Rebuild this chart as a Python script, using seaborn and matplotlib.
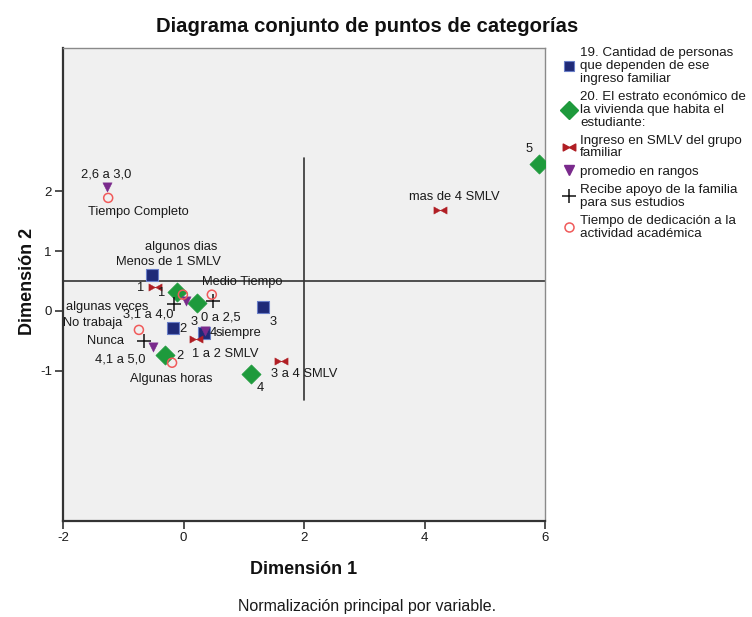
import numpy as np
import pandas as pd
import matplotlib
matplotlib.use("Agg")
import matplotlib.pyplot as plt
from matplotlib.path import Path
from matplotlib.lines import Line2D
import seaborn as sns

# ---------------- data ----------------
sq_labels = ["1", "2", "3", "4"]
sq_x = [-0.52, -0.17, 1.32, 0.34]
sq_y = [0.60, -0.28, 0.07, -0.37]

di_labels = ["1", "2", "3", "4", "5"]
di_x = [-0.11, -0.31, 0.22, 1.12, 5.90]
di_y = [0.32, -0.74, 0.13, -1.06, 2.46]

bt_labels = ["Menos de 1 SMLV", "1 a 2 SMLV", "3 a 4 SMLV", "mas de 4 SMLV"]
bt_x = [-0.47, 0.21, 1.62, 4.26]
bt_y = [0.40, -0.47, -0.84, 1.69]

tr_labels = ["2,6 a 3,0", "3,1 a 4,0", "0 a 2,5", "4,1 a 5,0"]
tr_x = [-1.27, 0.04, 0.36, -0.51]
tr_y = [2.08, 0.17, -0.34, -0.60]

pl_labels = ["algunas veces", "siempre", "Nunca"]
pl_x = [-0.16, 0.49, -0.66]
pl_y = [0.12, 0.17, -0.50]

ci_labels = ["Tiempo Completo", "Medio Tiempo", "algunos dias", "No trabaja", "Algunas horas"]
ci_x = [-1.25, 0.47, -0.01, -0.74, -0.19]
ci_y = [1.89, 0.27, 0.27, -0.32, -0.87]

legend_labels = [
    "19. Cantidad de personas\nque dependen de ese\ningreso familiar",
    "20. El estrato económico de\nla vivienda que habita el\nestudiante:",
    "Ingreso en SMLV del grupo\nfamiliar",
    "promedio en rangos",
    "Recibe apoyo de la familia\npara sus estudios",
    "Tiempo de dedicación a la\nactividad académica",
]

ref_h = 0.5
ref_v = 2.0
ref_v_span = (-1.5, 2.55)

# ---------------- label offsets (pixels) ----------------
sq_off = [(-12, -13), (10, -2), (10, -15), (9, 0)]
di_off = [(-15, -1), (15, -1), (-3, -19), (9, -14), (-10, 15)]
bt_off = [(13, 25), (29, -15), (23, -13), (14, 13)]
tr_off = [(-1, 12), (-38, -14), (16, 14), (-33, -13)]
pl_off = [(-67, -3), (25, -32), (-38, 0)]
ci_off = [(30, -14), (30, 13), (-2, 48), (-46, 7), (-1, -16)]

# ---------------- style ----------------
sns.set_style("white")
plt.rcParams["font.family"] = ["Liberation Sans", "DejaVu Sans"]
plt.rcParams["axes.unicode_minus"] = False

bowtie = Path([(-1, -0.55), (-1, 0.55), (0, 0), (1, 0.55), (1, -0.55), (0, 0), (-1, -0.55)],
              [Path.MOVETO, Path.LINETO, Path.LINETO, Path.LINETO, Path.LINETO, Path.LINETO, Path.CLOSEPOLY])

C_SQ, C_SQE = "#1f2a78", "#6a7fc8"
C_DI = "#1e9a3c"
C_BT = "#b01e24"
C_TR = "#7a2a8c"
C_PL = "#111111"
C_CI = "#f05a5a"

fig = plt.figure(figsize=(7.52, 6.17), dpi=100)
fig.patch.set_facecolor("white")
ax = fig.add_axes([63 / 752, 1 - 521 / 617, 482 / 752, 473 / 617])
ax.set_facecolor("#f0f0f0")

def df(x, y, lab):
    return pd.DataFrame({"x": x, "y": y, "lab": lab})

d_sq = df(sq_x, sq_y, sq_labels)
d_di = df(di_x, di_y, di_labels)
d_bt = df(bt_x, bt_y, bt_labels)
d_tr = df(tr_x, tr_y, tr_labels)
d_pl = df(pl_x, pl_y, pl_labels)
d_ci = df(ci_x, ci_y, ci_labels)

# reference lines
ax.axhline(ref_h, color="#333333", lw=1.2, zorder=1)
ax.plot([ref_v, ref_v], list(ref_v_span), color="#333333", lw=1.2, zorder=1)

sns.scatterplot(data=d_sq, x="x", y="y", ax=ax, marker="s", s=64, color=C_SQ,
                edgecolor=C_SQE, linewidth=0.8, zorder=3, legend=False)
sns.scatterplot(data=d_di, x="x", y="y", ax=ax, marker="D", s=95, color=C_DI,
                edgecolor=C_DI, linewidth=0.5, zorder=3, legend=False)
sns.scatterplot(data=d_bt, x="x", y="y", ax=ax, marker=bowtie, s=90, color=C_BT,
                edgecolor=C_BT, linewidth=0.3, zorder=4, legend=False)
sns.scatterplot(data=d_tr, x="x", y="y", ax=ax, marker="v", s=45, color=C_TR,
                edgecolor=C_TR, linewidth=0.3, zorder=4, legend=False)
sns.scatterplot(data=d_pl, x="x", y="y", ax=ax, marker="+", s=90, color=C_PL,
                linewidth=1.1, zorder=5, legend=False)
sns.scatterplot(data=d_ci, x="x", y="y", ax=ax, marker="o", s=42, facecolor="none",
                edgecolor=C_CI, linewidth=1.1, zorder=6, legend=False)

def label(d, offs):
    for (xx, yy, t), (dx, dy) in zip(d[["x", "y", "lab"]].itertuples(index=False), offs):
        ax.annotate(t, (xx, yy), xytext=(dx, dy), textcoords="offset pixels",
                    ha="center", va="center", fontsize=9.3, color="#1a1a1a", zorder=7)

for d, o in [(d_sq, sq_off), (d_di, di_off), (d_bt, bt_off), (d_tr, tr_off), (d_pl, pl_off), (d_ci, ci_off)]:
    label(d, o)

ax.set_xlim(-2, 6)
ax.set_ylim(-3.52, 4.40)
ax.set_xticks([-2, 0, 2, 4, 6])
ax.set_yticks([-1, 0, 1, 2])
ax.set_xlabel("")
ax.set_ylabel("")
ax.tick_params(axis="both", direction="out", length=6, width=1.2, color="#333333",
               labelsize=9.5, pad=2, labelcolor="#1a1a1a")
ax.tick_params(left=True, bottom=True)
for s in ["left", "bottom"]:
    ax.spines[s].set_color("#333333")
    ax.spines[s].set_linewidth(1.6)
for s in ["top", "right"]:
    ax.spines[s].set_color("#8a8a8a")
    ax.spines[s].set_linewidth(1.0)

fig.text(367 / 752, 1 - 32 / 617, "Diagrama conjunto de puntos de categorías",
         ha="center", va="baseline", fontsize=14.6, fontweight="bold", color="#111111")
fig.text(304 / 752, 1 - 570 / 617, "Dimensión 1", ha="center", va="center",
         fontsize=13, fontweight="bold", color="#111111")
fig.text(28 / 752, 1 - 281 / 617, "Dimensión 2", ha="center", va="center", rotation=90,
         fontsize=13, fontweight="bold", color="#111111")
fig.text(367 / 752, 1 - 607 / 617, "Normalización principal por variable.", ha="center",
         va="center", fontsize=11.5, color="#1a1a1a")

handles = [
    Line2D([], [], ls="none", marker="s", ms=7.8, mfc=C_SQ, mec=C_SQE, mew=0.8),
    Line2D([], [], ls="none", marker="D", ms=9, mfc=C_DI, mec=C_DI),
    Line2D([], [], ls="none", marker=bowtie, ms=9, mfc=C_BT, mec=C_BT),
    Line2D([], [], ls="none", marker="v", ms=6.5, mfc=C_TR, mec=C_TR),
    Line2D([], [], ls="none", marker="+", ms=9.5, mec=C_PL, mew=1.1),
    Line2D([], [], ls="none", marker="o", ms=6.5, mfc="none", mec=C_CI, mew=1.1),
]
fig.legend(handles, legend_labels, loc="upper left", bbox_to_anchor=(562 / 752, 1 - 47 / 617),
           frameon=False, handlelength=1.0, handletextpad=0.35, borderaxespad=0, borderpad=0,
           labelspacing=0.45, prop={"size": 9.6}, alignment="left")
for t in fig.legends[0].get_texts():
    t.set_linespacing(1.1)
    t.set_color("#1a1a1a")

fig.savefig("out.png", dpi=100, facecolor="white")
